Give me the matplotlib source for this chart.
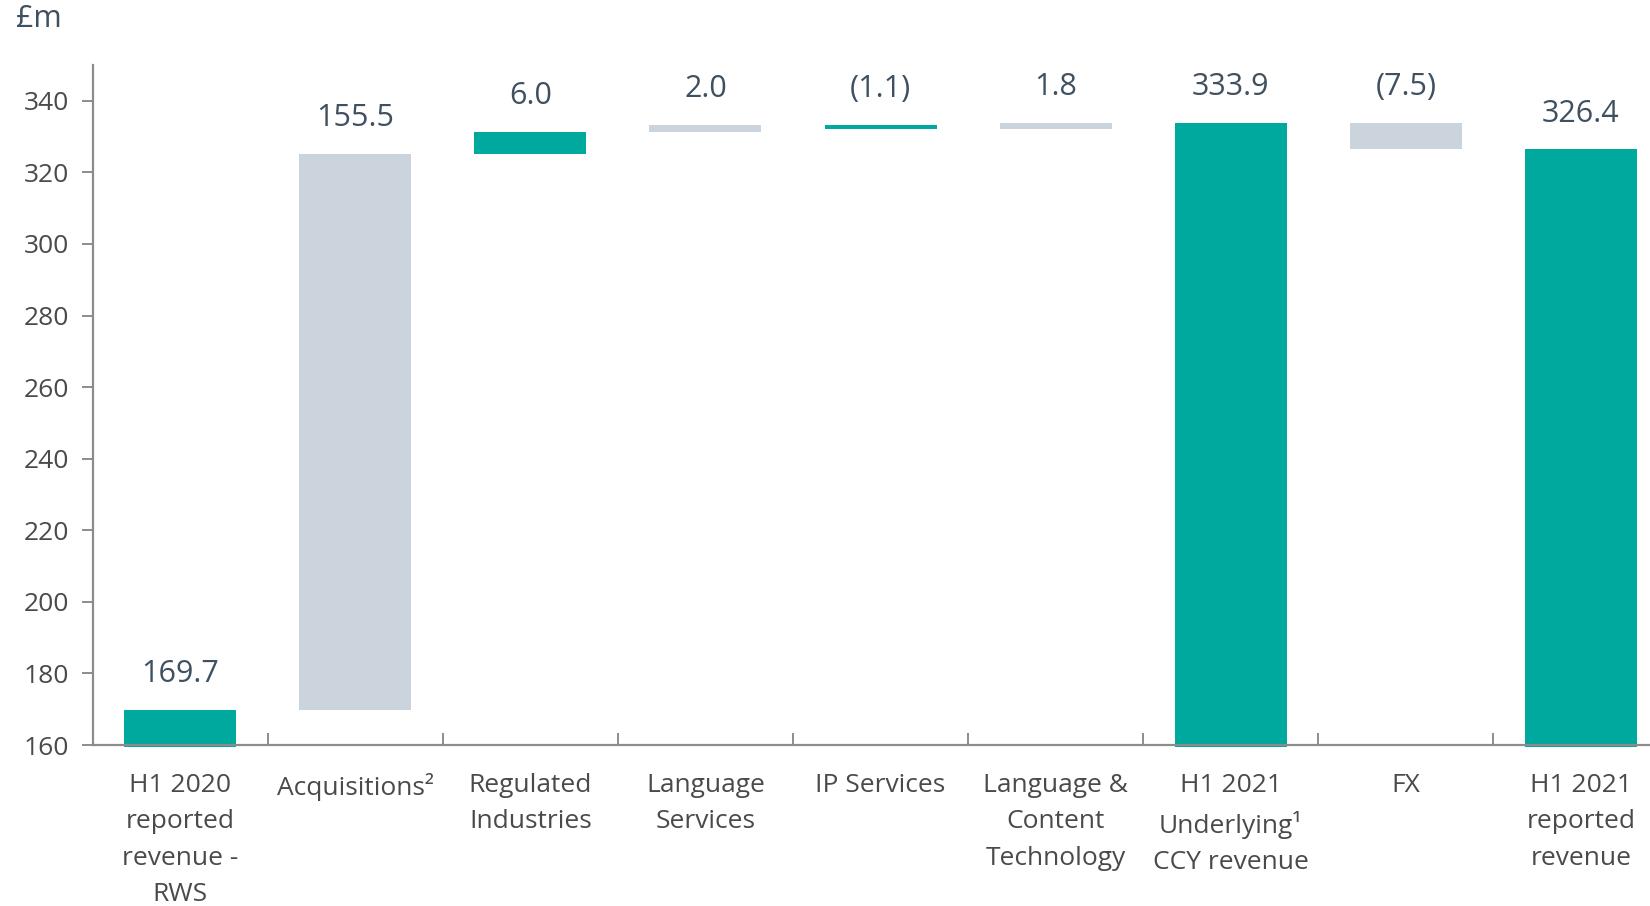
import matplotlib
matplotlib.use("Agg")
import matplotlib.pyplot as plt
import numpy as np

plt.rcParams['font.family'] = ['Open Sans', 'DejaVu Sans']

# waterfall data (£m)
categories = ["H1 2020\nreported\nrevenue -\nRWS", "Acquisitions\u00b2", "Regulated\nIndustries",
              "Language\nServices", "IP Services", "Language &\nContent\nTechnology",
              "H1 2021\nUnderlying\u00b9\nCCY revenue", "FX", "H1 2021\nreported\nrevenue"]
values = [169.7, 155.5, 6.0, 2.0, -1.1, 1.8, 333.9, -7.5, 326.4]
is_total = [True, False, False, False, False, False, True, False, True]
value_labels = ["169.7", "155.5", "6.0", "2.0", "(1.1)", "1.8", "333.9", "(7.5)", "326.4"]
bar_colors = ["#00A99D", "#CBD3DD", "#00A99D", "#CBD3DD", "#00A99D",
              "#CBD3DD", "#00A99D", "#CBD3DD", "#00A99D"]

ymin = 160
bottoms, heights, tops = [], [], []
running = 0
for v, tot in zip(values, is_total):
    if tot:
        running = v
        bottoms.append(ymin - 0.6)
        heights.append(v - ymin + 0.6)
        tops.append(v)
    else:
        lo = min(running, running + v)
        hi = max(running, running + v)
        bottoms.append(lo)
        heights.append(hi - lo)
        tops.append(hi)
        running += v

fig = plt.figure(figsize=(16.5, 9.06), dpi=100)
ax = fig.add_axes([0.0561, 0.1777, 1 - 0.0561, 0.9283 - 0.1777])

x = np.arange(len(categories))
ax.bar(x, heights, bottom=bottoms, width=0.64, color=bar_colors, zorder=2, clip_on=False)

for xi, t, lab in zip(x, tops, value_labels):
    ax.annotate(lab, (xi, t), xytext=(0, 15), textcoords="offset points",
                ha="center", va="bottom", fontsize=22, color="#3F5060")

ax.set_ylim(ymin, 350)
ax.set_xlim(-0.5, 8.394)
ax.set_yticks(np.arange(160, 341, 20))
ax.set_xticks(x)
ax.set_xticklabels(categories, fontsize=19, color="#4A4A4A", linespacing=1.6, va="top")
ax.set_xticks(np.arange(0.5, 8, 1), minor=True)

for s in ["top", "right"]:
    ax.spines[s].set_visible(False)
for s in ["left", "bottom"]:
    ax.spines[s].set_color("#8C8C8C")
    ax.spines[s].set_linewidth(1.6)
    ax.spines[s].set_zorder(3)

ax.tick_params(axis="y", direction="out", length=8, width=1.4, color="#8C8C8C",
               labelsize=19, labelcolor="#4A4A4A", pad=9)
ax.tick_params(axis="x", which="major", length=0, pad=20)
ax.tick_params(axis="x", which="minor", direction="in", length=9, width=1.4, color="#8C8C8C")

fig.text(0.0097, 0.996, "£m", fontsize=22, color="#3F5060", ha="left", va="top")

fig.savefig("out.png", dpi=100)
